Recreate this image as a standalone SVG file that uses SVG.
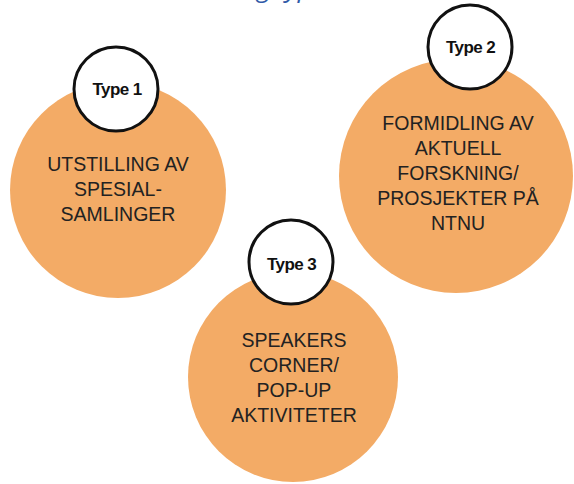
<svg xmlns="http://www.w3.org/2000/svg" width="574" height="484" viewBox="0 0 574 484">
  <style>
    .big { fill: #F3AB66; }
    .badge { fill: #ffffff; stroke: #111111; stroke-width: 3; }
    .lbl { font-family: "Liberation Sans", Arial, sans-serif; font-size: 19.5px; fill: #222222; text-anchor: middle; }
    .type { font-family: "Liberation Sans", Arial, sans-serif; font-size: 17px; font-weight: bold; fill: #111111; text-anchor: middle; letter-spacing: -0.6px; }
    .title { font-family: "Open Sans", "Liberation Sans", sans-serif; font-style: italic; font-size: 26px; fill: #2F5AA8; }
  </style>
  <rect width="574" height="484" fill="#ffffff"/>
  <text class="title" x="257" y="-3">g typ</text>
  <g id="connectors"></g>
  <g id="node-type1">
    <circle class="big" cx="118" cy="190" r="108"/>
    <circle class="badge" cx="116" cy="89" r="42"/>
    <text class="type" x="117" y="95">Type 1</text>
    <text class="lbl" x="118" y="171">UTSTILLING AV</text>
    <text class="lbl" x="118" y="196">SPESIAL-</text>
    <text class="lbl" x="118" y="221">SAMLINGER</text>
  </g>
  <g id="node-type2">
    <circle class="big" cx="456" cy="176" r="117"/>
    <circle class="badge" cx="470" cy="47" r="42"/>
    <text class="type" x="470.5" y="53">Type 2</text>
    <text class="lbl" x="458" y="130">FORMIDLING AV</text>
    <text class="lbl" x="458" y="155">AKTUELL</text>
    <text class="lbl" x="458" y="180">FORSKNING/</text>
    <text class="lbl" x="458" y="205">PROSJEKTER PÅ</text>
    <text class="lbl" x="458" y="230">NTNU</text>
  </g>
  <g id="node-type3">
    <circle class="big" cx="293" cy="377" r="105"/>
    <circle class="badge" cx="291" cy="262" r="42"/>
    <text class="type" x="291.5" y="270">Type 3</text>
    <text class="lbl" x="294" y="347">SPEAKERS</text>
    <text class="lbl" x="294" y="372">CORNER/</text>
    <text class="lbl" x="294" y="397">POP-UP</text>
    <text class="lbl" x="294" y="422">AKTIVITETER</text>
  </g>
</svg>
